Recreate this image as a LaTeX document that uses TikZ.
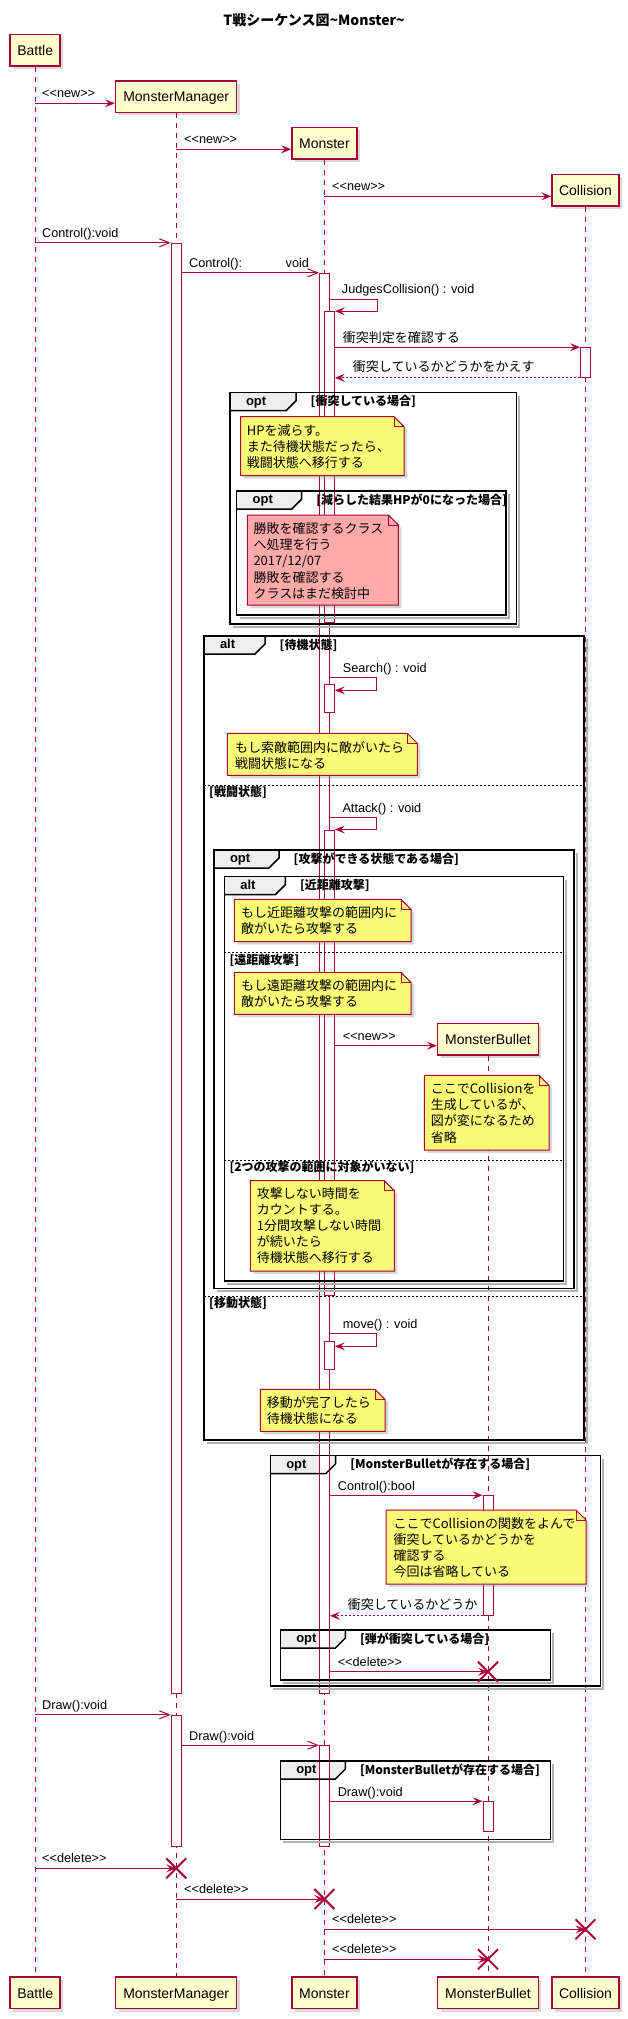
\documentclass[tikz,border=0pt]{standalone}
\usepackage{fontspec}
\setmainfont{Liberation Sans}
\newfontfamily\jpfont{Noto Sans CJK JP}
\usetikzlibrary{arrows.meta,positioning,fit,shapes.misc,shadows}
\definecolor{plred}{HTML}{A80036}
\definecolor{plbox}{HTML}{FEFECE}
\definecolor{plnote}{HTML}{FBFB77}
\definecolor{plpink}{HTML}{FFAAAA}
\definecolor{pltab}{HTML}{EEEEEE}
\tikzset{
  partbox/.style={draw=plred,line width=1.5pt,fill=plbox,minimum height=31.5pt,inner sep=0pt,
    text height=10.5pt,text depth=0pt,font=\fontsize{14}{16}\selectfont,
    drop shadow={shadow xshift=3pt,shadow yshift=-3pt,opacity=0.3}},
  life/.style={draw=plred,line width=1pt,dash pattern=on 5pt off 5pt},
  act/.style={draw=plred,fill=white,line width=1pt,inner sep=0pt},
  msgf/.style={draw=plred,line width=1pt,-{Stealth[length=10pt,width=8pt,inset=4pt]}},
  msgo/.style={draw=plred,line width=1pt,-{Straight Barb[length=10pt,width=8pt]}},
  msgr/.style={msgf,dash pattern=on 2pt off 2pt},
  lbl/.style={anchor=base west,inner sep=0pt,font=\fontsize{12.7}{15}\selectfont},
  jlbl/.style={anchor=base west,inner sep=0pt,font=\jpfont\fontsize{13}{15}\selectfont},
  delx/.style={cross out,draw=plred,line width=2pt,minimum size=18pt,inner sep=0pt},
  frm/.style={draw=black,line width=1.5pt},
  altsep/.style={draw=black,line width=1pt,dash pattern=on 2pt off 2pt},
  kwtxt/.style={anchor=base west,inner sep=0pt,font=\bfseries\fontsize{13}{15}\selectfont},
  grd/.style={anchor=base west,inner sep=0pt,font=\jpfont\bfseries\fontsize{12}{14}\selectfont},
  nshape/.style={draw=plred,line width=1pt},
  ntxt/.style={anchor=base west,inner sep=0pt,font=\jpfont\fontsize{13}{16}\selectfont},
}
% note with folded corner: L,T,R,B,fill
\newcommand{\notebox}[5]{%
  \draw[nshape,fill=#5,drop shadow={shadow xshift=3pt,shadow yshift=-3pt,opacity=0.3}]
    (#1,#2) -- ({#3-10},#2) -- (#3,{#2+10}) -- (#3,#4) -- (#1,#4) -- cycle;
  \draw[nshape] ({#3-10},#2) -- ({#3-10},{#2+10}) -- (#3,{#2+10});
}
% note lines: name,x,first baseline,lines
\newcommand{\notetext}[4]{%
  \foreach \nline [count=\nk] in {#4}
    \node[ntxt] (#1\nk) at (#2,{#3+(\nk-1)*16.2}) {\nline};
}

\begin{document}
\begin{tikzpicture}[x=1pt,y=-1pt]
  \useasboundingbox (0,0) rectangle (628,2019);
  \fill[white] (0,0) rectangle (628,2019);

  \node[anchor=base,inner sep=0pt,font=\jpfont\bfseries\fontsize{14}{16}\selectfont] (title) at (314,25)
    {T戦シーケンス図\textasciitilde Monster\textasciitilde};

  % participants
  \node[partbox,minimum width=50pt] (batT) at (35.2,50) {Battle};
  \node[partbox,minimum width=121pt] (mgrT) at (176.2,96.5) {MonsterManager};
  \node[partbox,minimum width=65pt] (monT) at (324.4,143) {Monster};
  \node[partbox,minimum width=67pt] (colT) at (585.5,190) {Collision};
  \node[partbox,minimum width=100.7pt] (bulT) at (488,1039) {MonsterBullet};

  \node[partbox,minimum width=50pt] (batB) at (35.2,1992.8) {Battle};
  \node[partbox,minimum width=121pt] (mgrB) at (176.2,1992.8) {MonsterManager};
  \node[partbox,minimum width=65pt] (monB) at (324.4,1992.8) {Monster};
  \node[partbox,minimum width=100.7pt] (bulB) at (488,1992.8) {MonsterBullet};
  \node[partbox,minimum width=67pt] (colB) at (585.5,1992.8) {Collision};

  % groups: left/top/right/bottom/tab width/keyword/guard
  \def\frames{230/392.7/516.7/624/66/opt/{[衝突している場合]},
    236.7/491/506/615/65/opt/{[減らした結果HPが0になった場合]},
    204/636/584/1440/61/alt/{[待機状態]},
    214/850/574/1288.3/65/opt/{[攻撃ができる状態である場合]},
    224.3/876.7/563.3/1281/61/alt/{[近距離攻撃]},
    270.3/1455.7/600.5/1686/65.4/opt/{[MonsterBulletが存在する場合]},
    280.3/1630/550.7/1680/65/opt/{[弾が衝突している場合]},
    280.3/1761/550.7/1839.3/65/opt/{[MonsterBulletが存在する場合]}}
  \foreach \fl/\ft/\fr/\fb/\tw/\kw/\gd in \frames {
    \fill[pltab] (\fl,\ft) -- ({\fl+\tw},\ft) -- ({\fl+\tw},{\ft+8})
      -- ({\fl+\tw-10},{\ft+18}) -- (\fl,{\ft+18}) -- cycle;
  }

  % lifelines
  \draw[life] (batT.south) -- (batB.north);
  \draw[life] (mgrT.south) -- (mgrB.north);
  \draw[life] (monT.south) -- (monB.north);
  \draw[life] (colT.south) -- (colB.north);
  \draw[life] (bulT.south) -- (bulB.north);

  % activations
  \node[act,fit={(171.2,243.3) (181.2,1693.3)}] (mgrA1) {};
  \node[act,fit={(319.4,273.3) (329.4,1693.3)}] (monA1) {};
  \node[act,fit={(324.4,311.7) (334.4,622)}] (monA2) {};
  \node[act,fit={(580.5,347.7) (590.5,377.3)}] (colA1) {};
  \node[act,fit={(324.4,684.3) (334.4,712)}] (monA3) {};
  \node[act,fit={(324.4,830) (334.4,1295)}] (monA4) {};
  \node[act,fit={(324.4,1341.3) (334.4,1369.3)}] (monA5) {};
  \node[act,fit={(483,1495.7) (493,1615.3)}] (bulA1) {};
  \node[act,fit={(171.2,1715.3) (181.2,1846.7)}] (mgrA2) {};
  \node[act,fit={(319.4,1745.7) (329.4,1846.7)}] (monA6) {};
  \node[act,fit={(483,1801.7) (493,1831)}] (bulA2) {};

  \foreach \fl/\ft/\fr/\fb/\tw/\kw/\gd [count=\fc] in \frames {
    \draw[black!30,line width=2pt] ({\fr+2.5},{\ft+3}) -- ({\fr+2.5},{\fb+2.5}) -- ({\fl+3},{\fb+2.5});
    \draw[frm] (\fl,\ft) rectangle (\fr,\fb);
    \draw[frm] (\fl,{\ft+18}) -- ({\fl+\tw-10},{\ft+18}) -- ({\fl+\tw},{\ft+8}) -- ({\fl+\tw},\ft);
    \node[kwtxt] (kw\fc) at ({\fl+15.8},{\ft+12.7}) {\kw};
    \node[grd] (gd\fc) at ({\fl+\tw+14.5},{\ft+13}) {\gd};
  }
  \foreach \sy/\sa/\sb/\st [count=\sk] in {785/204/584/{[戦闘状態]},1296/204/584/{[移動状態]},
      952.3/224.3/563.3/{[遠距離攻撃]},1160/224.3/563.3/{[2つの攻撃の範囲に対象がいない]}} {
    \draw[altsep] (\sa,\sy) -- (\sb,\sy);
    \node[grd] (sep\sk) at ({\sa+5},{\sy+11.7}) {\st};
  }

  % creation
  \draw[msgf] (batT.south |- 0,103.3) -- (mgrT.west |- 0,103.3);
  \node[lbl] (lNew1) at (42,97.8) {<{}<new>{}>};
  \draw[msgf] (mgrT.south |- 0,149.3) -- (monT.west |- 0,149.3);
  \node[lbl] (lNew2) at (184,143.8) {<{}<new>{}>};
  \draw[msgf] (monT.south |- 0,196.3) -- (colT.west |- 0,196.3);
  \node[lbl] (lNew3) at (332,190.8) {<{}<new>{}>};

  % Control
  \draw[msgo] (batT.south |- mgrA1.north) -- (mgrA1.north west);
  \node[lbl] (lCtl1) at (42,237.8) {Control():void};
  \draw[msgo] (mgrA1.east |- monA1.north) -- (monA1.north west);
  \node[lbl] (lCtl2) at (189,267.8) {Control():};
  \node[lbl] (lCtl2v) at (285.5,267.8) {void};
  \draw[msgf] (monA1.east |- 0,299.3) -- ++(47.3,0) |- (monA2.north east);
  \node[lbl] (lJudge) at (341.7,293.8) {JudgesCollision() : void};
  \draw[msgf] (monA2.east |- colA1.north) -- (colA1.north west);
  \node[jlbl] (lCheck) at (342.7,342.2) {衝突判定を確認する};
  \draw[msgr] (colA1.south west) -- (monA2.east |- colA1.south);
  \node[jlbl] (lRet1) at (352.7,371.8) {衝突しているかどうかをかえす};

  \draw[msgf] (monA1.east |- 0,677.7) -- ++(46.6,0) |- (monA3.east |- 0,690.3);
  \node[lbl] (lSearch) at (342.7,672.2) {Search() : void};
  \draw[msgf] (monA1.east |- 0,817.7) -- ++(46.6,0) |- (monA4.north east);
  \node[lbl] (lAttack) at (342.3,812.2) {Attack() : void};
  \draw[msgf] (monA4.east |- 0,1045.7) -- (bulT.west |- 0,1045.7);
  \node[lbl] (lNew4) at (342.7,1040.2) {<{}<new>{}>};
  \draw[msgf] (monA1.east |- 0,1333.7) -- ++(46.6,0) |- (monA5.east |- 0,1346.3);
  \node[lbl] (lMove) at (342.7,1328.2) {move() : void};

  \draw[msgf] (monA1.east |- bulA1.north) -- (bulA1.north west);
  \node[lbl] (lCtl3) at (337.7,1490.2) {Control():bool};
  \draw[msgr] (bulA1.south west) -- (monA1.east |- bulA1.south);
  \node[jlbl] (lRet2) at (347.6,1609.8) {衝突しているかどうか};

  % delete marks
  \node[delx] (xBul1) at (488,1671.7) {};
  \node[delx] (xMgr) at (176.2,1868.3) {};
  \node[delx] (xMon) at (324.4,1899) {};
  \node[delx] (xCol) at (585.5,1929.3) {};
  \node[delx] (xBul2) at (488,1959.3) {};

  \draw[msgf] (monA1.east |- xBul1) -- (xBul1.center);
  \node[lbl] (lDel1) at (337.6,1666.2) {<{}<delete>{}>};

  % Draw
  \draw[msgo] (batT.south |- mgrA2.north) -- (mgrA2.north west);
  \node[lbl] (lDraw1) at (42,1709.8) {Draw():void};
  \draw[msgo] (mgrA2.east |- monA6.north) -- (monA6.north west);
  \node[lbl] (lDraw2) at (189,1740.2) {Draw():void};
  \draw[msgf] (monA6.east |- bulA2.north) -- (bulA2.north west);
  \node[lbl] (lDraw3) at (337.6,1796.2) {Draw():void};

  \draw[msgf] (batT.south |- xMgr) -- (xMgr.center);
  \node[lbl] (lDel2) at (42,1862.8) {<{}<delete>{}>};
  \draw[msgf] (mgrT.south |- xMon) -- (xMon.center);
  \node[lbl] (lDel3) at (184,1893.5) {<{}<delete>{}>};
  \draw[msgf] (monT.south |- xCol) -- (xCol.center);
  \node[lbl] (lDel4) at (332,1923.8) {<{}<delete>{}>};
  \draw[msgf] (monT.south |- xBul2) -- (xBul2.center);
  \node[lbl] (lDel5) at (332,1953.8) {<{}<delete>{}>};

  % notes
  \notebox{240.7}{416.7}{404}{475.7}{plnote}
  \notetext{nHp}{246.7}{435.5}{HPを減らす。,また待機状態だったら、,戦闘状態へ移行する}
  \notebox{247.3}{515}{398.3}{605}{plpink}
  \notetext{nWin}{253.3}{533.5}{勝敗を確認するクラス,へ処理を行う,2017/12/07,勝敗を確認する,クラスはまだ検討中}
  \notebox{227.3}{733.3}{417.3}{775.3}{plnote}
  \notetext{nSrch}{235}{752}{もし索敵範囲内に敵がいたら,戦闘状態になる}
  \notebox{234.3}{899.3}{411}{941.7}{plnote}
  \notetext{nNear}{241}{917.5}{もし近距離攻撃の範囲内に,敵がいたら攻撃する}
  \notebox{234.3}{972.3}{411}{1014.3}{plnote}
  \notetext{nFar}{241}{990.5}{もし遠距離攻撃の範囲内に,敵がいたら攻撃する}
  \notebox{424.3}{1075.3}{549}{1150}{plnote}
  \notetext{nGen}{430.7}{1093.5}{ここでCollisionを,生成しているが、,図が変になるため,省略}
  \notebox{250.3}{1180.7}{394.3}{1271}{plnote}
  \notetext{nIdle}{256.7}{1198}{攻撃しない時間を,カウントする。,1分間攻撃しない時間,が続いたら,待機状態へ移行する}
  \notebox{260.3}{1389.3}{385}{1431.3}{plnote}
  \notetext{nMove}{266.7}{1407}{移動が完了したら,待機状態になる}
  \notebox{386}{1510}{586}{1584}{plnote}
  \notetext{nHit}{393.3}{1528}{ここでCollisionの関数をよんで,衝突しているかどうかを,確認する,今回は省略している}
\end{tikzpicture}
\end{document}
